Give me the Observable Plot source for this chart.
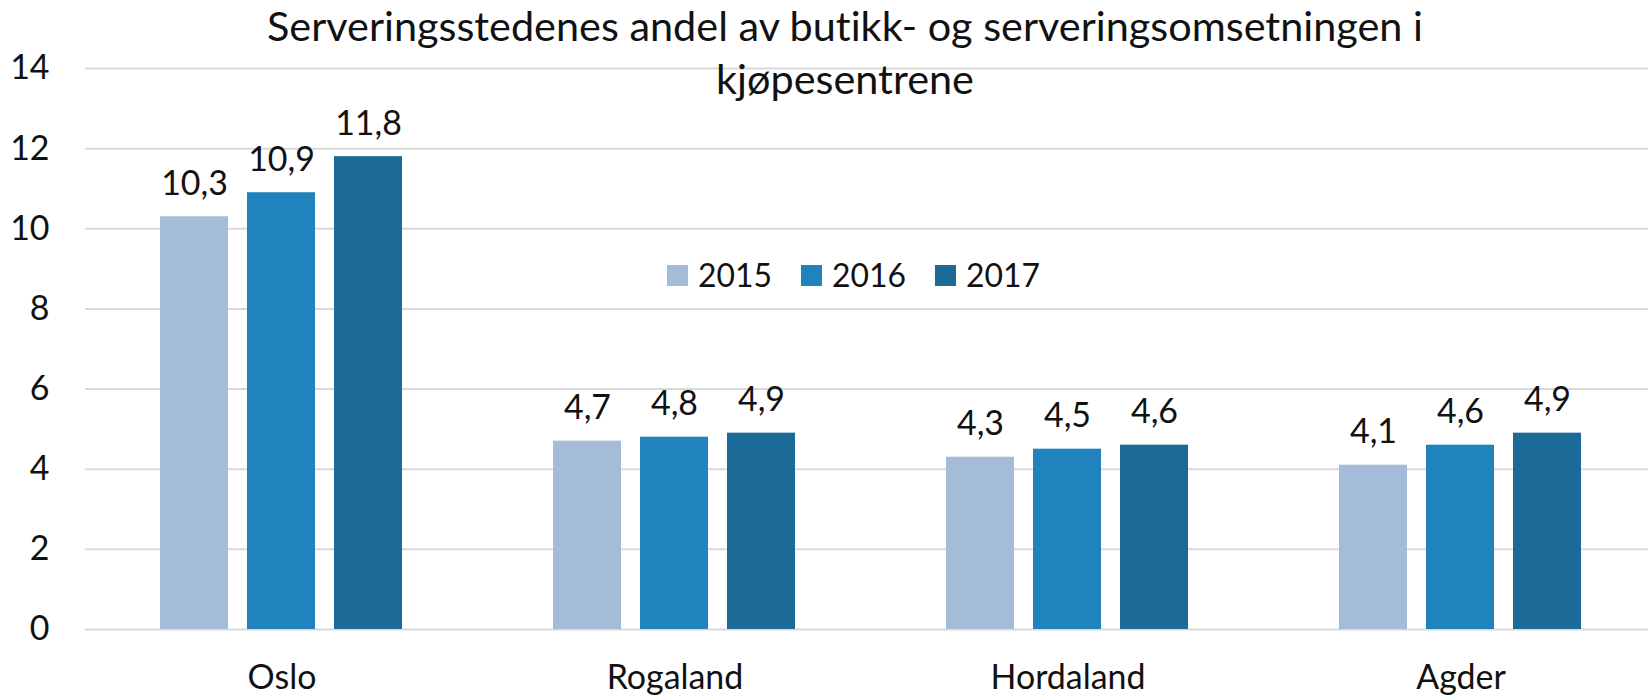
<!DOCTYPE html>
<html>
<head>
<meta charset="utf-8">
<script src="https://cdn.jsdelivr.net/npm/d3@7"></script>
<script src="https://cdn.jsdelivr.net/npm/@observablehq/plot@0.6"></script>
<style>
  html, body { margin: 0; padding: 0; background: #fff; }
  #wrap { position: relative; width: 1648px; height: 695px; overflow: hidden; font-family: Lato, "Open Sans", sans-serif; color: #111; font-variant-ligatures: none; }
  #title { position: absolute; left: 145px; width: 1400px; top: 0; text-align: center; white-space: nowrap; font-variant-ligatures: none; }
  #legend { position: absolute; left: 667px; top: 256px; display: flex; align-items: center; }
  .item { display: flex; align-items: center; }
  .sw { width: 21px; height: 21px; margin-right: 10px; }
  svg { overflow: visible; font-variant-ligatures: none; }
</style>
</head>
<body>
<div id="wrap">
  <div id="chart"></div>
  <div id="title"></div>
  <div id="legend"></div>
</div>
<script>
const titleLines = ["Serveringsstedenes andel av butikk- og serveringsomsetningen i", "kjøpesentrene"];
const regions = ["Oslo", "Rogaland", "Hordaland", "Agder"];
const years = ["2015", "2016", "2017"];
const v2015 = [10.3, 4.7, 4.3, 4.1];
const v2016 = [10.9, 4.8, 4.5, 4.6];
const v2017 = [11.8, 4.9, 4.6, 4.9];
const yTicks = [0, 2, 4, 6, 8, 10, 12, 14];
const colors = ["#A4BCD7", "#2083BD", "#1B6A98"];

const series = [v2015, v2016, v2017];
const rows = [];
regions.forEach((r, i) => years.forEach((y, j) => rows.push({region: r, year: y, value: series[j][i]})));

// fit font sizes of Lato to the widths measured on the reference
const ctx = document.createElement("canvas").getContext("2d");
function fit(text, target, family) {
  ctx.font = `100px ${family}`;
  return 100 * target / ctx.measureText(text).width;
}
const fam = "Lato";
const titleSize = fit(titleLines[0], 1158, fam);
const labelSize = fit("Hordaland", 155, fam);
const legendSize = fit("2015", 74, fam);

const fmt = v => v.toFixed(1).replace(".", ",");

const chart = Plot.plot({
  width: 1648,
  height: 695,
  marginLeft: 83,
  marginRight: 0,
  marginTop: 68,
  marginBottom: 66,
  style: {fontFamily: "Lato, sans-serif", fontSize: labelSize + "px", color: "#111", background: "transparent", overflow: "visible"},
  facet: {data: rows, x: "region"},
  fx: {domain: regions, range: [83, 1658], padding: 0, axis: "bottom", label: null, tickSize: 0, tickPadding: 688 - 629 - 0.71 * labelSize},
  x: {domain: years, paddingInner: 0.216, paddingOuter: 0.845, axis: null},
  y: {domain: [0, 14], ticks: yTicks, tickSize: 0, tickPadding: 36, label: null, tickFormat: d => String(d)},
  color: {domain: years, range: colors},
  marks: [
    Plot.ruleY(yTicks, {stroke: "#D9D9D9", strokeWidth: 2}),
    Plot.barY(rows, {x: "year", y: "value", fill: "year"}),
    Plot.text(rows, {x: "year", y: "value", text: d => fmt(d.value), dy: -22, lineAnchor: "bottom", fill: "#111"})
  ]
});
document.getElementById("chart").appendChild(chart);

const title = document.getElementById("title");
title.style.fontSize = titleSize + "px";
title.style.lineHeight = "53px";
title.style.top = "-1px";
title.innerHTML = titleLines.join("<br>");

const legend = document.getElementById("legend");
legend.style.fontSize = legendSize + "px";
years.forEach((y, j) => {
  const item = document.createElement("div");
  item.className = "item";
  item.style.width = j < years.length - 1 ? "134px" : "auto";
  const sw = document.createElement("div");
  sw.className = "sw";
  sw.style.background = colors[j];
  const t = document.createElement("span");
  t.textContent = y;
  item.appendChild(sw);
  item.appendChild(t);
  legend.appendChild(item);
});
</script>
</body>
</html>
